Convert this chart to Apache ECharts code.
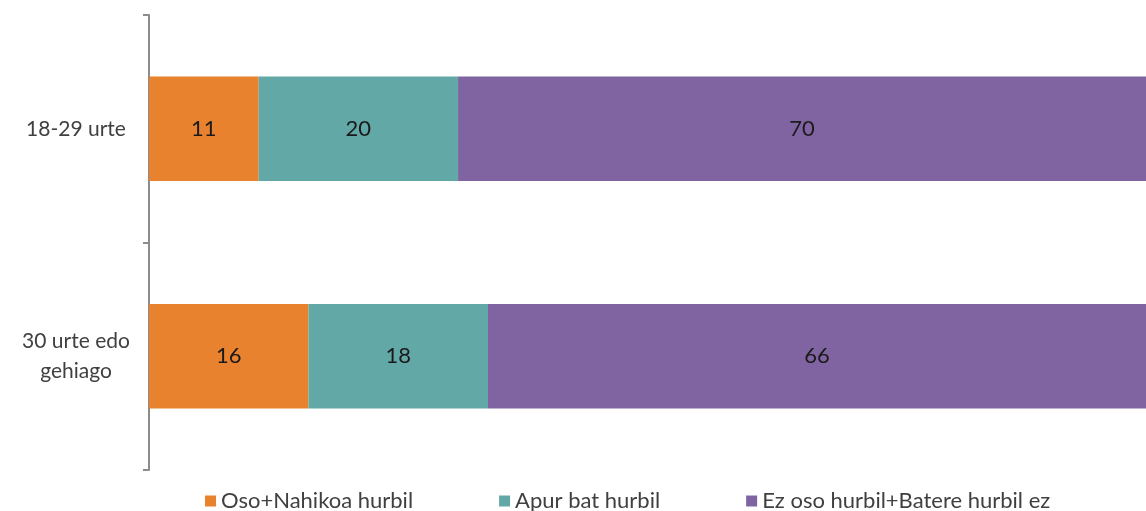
<!DOCTYPE html>
<html>
<head>
<meta charset="utf-8">
<script src="https://cdn.jsdelivr.net/npm/echarts@6/dist/echarts.min.js"></script>
<style>
  html, body { margin: 0; padding: 0; background: #fff; }
  #chart { width: 1146px; height: 511px; }
</style>
</head>
<body>
<div id="chart"></div>
<script>
// adin taldeak
const categories = ['18-29 urte', '30 urte edo\ngehiago']
const seriesNames = ['Oso+Nahikoa hurbil', 'Apur bat hurbil', 'Ez oso hurbil+Batere hurbil ez']
const osoNahikoa = [11, 16]
const apurBat = [20, 18]
const ezOso = [70, 66]
const colors = ['#E8822E', '#62A8A6', '#8064A2']

const font = 'Lato, "Open Sans", sans-serif'

let mycharts = echarts.init(document.getElementById('chart'))

function makeSeries (name, data) {
  return {
    name: name,
    type: 'bar',
    stack: 'total',
    barWidth: '46%',
    label: {
      show: true,
      position: 'inside',
      color: '#1a1a1a',
      fontFamily: font,
      fontSize: 22
    },
    data: data
  }
}

mycharts.setOption({
  color: colors,
  animation: false,
  grid: {
    left: 149,
    right: -3,
    top: 15,
    bottom: 41,
    containLabel: false
  },
  legend: {
    top: 485,
    left: 200,
    itemWidth: 11,
    itemHeight: 11,
    itemGap: 86,
    icon: 'rect',
    textStyle: {
      color: '#404040',
      fontFamily: font,
      fontSize: 22
    },
    data: seriesNames
  },
  xAxis: {
    type: 'value',
    min: 0,
    max: 100,
    show: false
  },
  yAxis: {
    type: 'category',
    inverse: true,
    data: categories,
    axisLine: {
      show: true,
      lineStyle: { color: '#8c8c8c', width: 2 }
    },
    axisTick: {
      show: true,
      length: 6,
      lineStyle: { color: '#8c8c8c', width: 2 }
    },
    axisLabel: {
      margin: 73,
      color: '#404040',
      fontFamily: font,
      fontSize: 21,
      lineHeight: 30,
      align: 'center'
    }
  },
  series: [
    makeSeries(seriesNames[0], osoNahikoa),
    makeSeries(seriesNames[1], apurBat),
    makeSeries(seriesNames[2], ezOso)
  ]
})
</script>
</body>
</html>
